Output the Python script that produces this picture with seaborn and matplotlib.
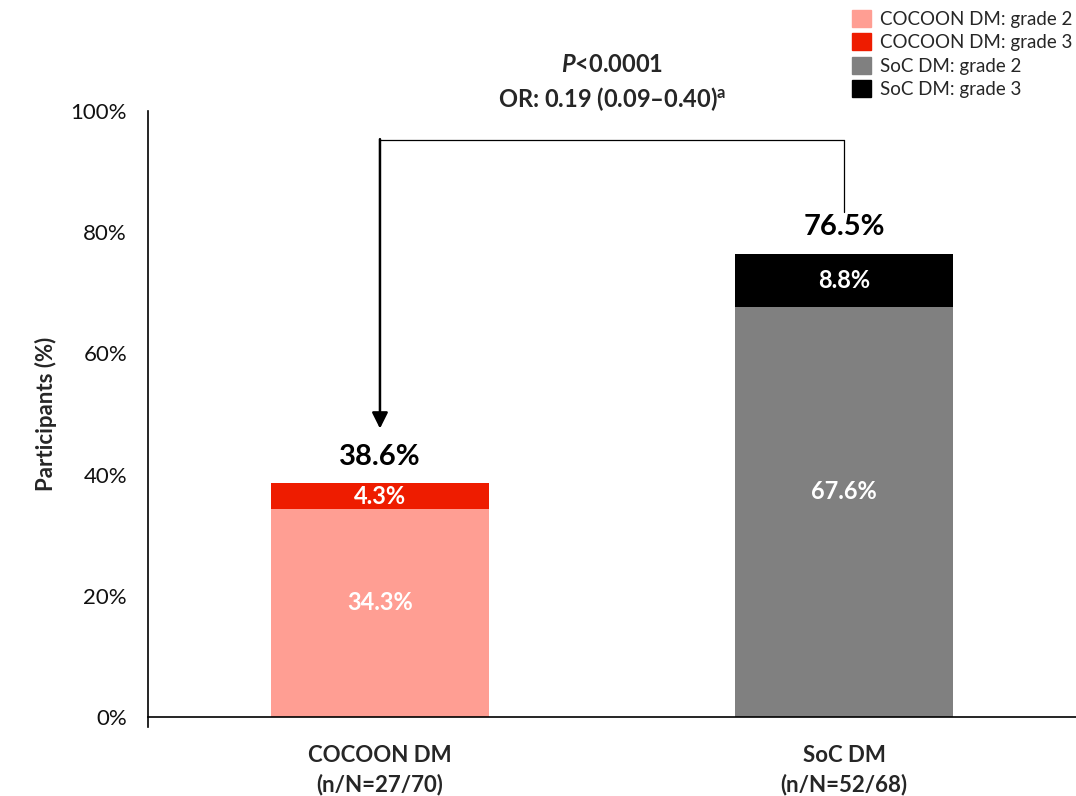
import matplotlib
matplotlib.use("Agg")
import matplotlib.pyplot as plt
from matplotlib.patches import Patch
import seaborn as sns
import pandas as pd

# Dermatitis grade by arm (% of participants)
arms = ["COCOON DM", "SoC DM"]
arm_labels = ["COCOON DM\n(n/N=27/70)", "SoC DM\n(n/N=52/68)"]
grade2 = [34.3, 67.6]
grade3 = [4.3, 8.8]
totals = [38.6, 76.5]
yticks = [0, 20, 40, 60, 80, 100]

grade2_colors = ["#FF9E93", "#808080"]
grade3_colors = ["#EE1C00", "#000000"]

sns.set_theme(style="white")
plt.rcParams["font.family"] = ["Lato", "DejaVu Sans"]
plt.rcParams["mathtext.fontset"] = "custom"
plt.rcParams["mathtext.rm"] = "Lato"
plt.rcParams["mathtext.bf"] = "Lato:bold"
plt.rcParams["mathtext.it"] = "Lato:italic"
plt.rcParams["mathtext.bfit"] = "Lato:italic:bold"

fig = plt.figure(figsize=(10.76, 7.96), dpi=100)
ax = fig.add_axes([0.1375, 0.0992, 0.8625, 0.7614])

df = pd.DataFrame({
    "arm": arms,
    "stack_top": [g2 + g3 for g2, g3 in zip(grade2, grade3)],
    "grade2": grade2,
})

# grade 3 segment shows as the part of the full stack above grade 2
sns.barplot(data=df, x="arm", y="stack_top", hue="arm",
            palette=dict(zip(arms, grade3_colors)), width=0.47,
            legend=False, ax=ax, saturation=1, linewidth=0)
sns.barplot(data=df, x="arm", y="grade2", hue="arm",
            palette=dict(zip(arms, grade2_colors)), width=0.47,
            legend=False, ax=ax, saturation=1, linewidth=0)

ax.set_xlim(-0.5, 1.5)
ax.set_ylim(0, 100)
ax.set_yticks(yticks)
ax.set_yticklabels([f"{t}%" for t in yticks], fontsize=16, color="#111111")
ax.set_xticks([0, 1])
ax.set_xticklabels(arm_labels, fontsize=16, fontweight="bold", linespacing=1.45)
ax.set_xticks([-0.5, 0.5, 1.5], minor=True)
ax.tick_params(axis="x", which="major", length=0, pad=20)
ax.tick_params(axis="x", which="minor", length=6, width=1, color="black", direction="out")
ax.tick_params(axis="y", which="major", length=7, width=1, color="black", direction="out", pad=8)
ax.set_xlabel("")
ax.set_ylabel("Participants (%)", fontsize=16, fontweight="bold", labelpad=10)

for side in ["top", "right"]:
    ax.spines[side].set_visible(False)
for side in ["left", "bottom"]:
    ax.spines[side].set_color("black")
    ax.spines[side].set_linewidth(1.2)
ax.spines["left"].set_bounds(-1.6, 100)

# segment and total labels
for i in range(len(arms)):
    ax.text(i, grade2[i] * 0.55, f"{grade2[i]:.1f}%", ha="center", va="center",
            color="white", fontsize=17, fontweight="bold")
    ax.text(i, grade2[i] + grade3[i] / 2, f"{grade3[i]:.1f}%", ha="center",
            va="center", color="white", fontsize=17, fontweight="bold")
    ax.text(i, totals[i] + 4.3, f"{totals[i]:.1f}%", ha="center", va="center",
            color="black", fontsize=21, fontweight="bold")

# comparison bracket with arrow into the COCOON bar
ax.plot([0, 1], [95.2, 95.2], color="black", lw=0.9, clip_on=False)
ax.plot([1, 1], [95.2, 83.3], color="black", lw=0.9, clip_on=False)
ax.annotate("", xy=(0, 47.6), xytext=(0, 95.35),
            arrowprops=dict(arrowstyle="-|>", color="black", lw=1.8,
                            mutation_scale=24, shrinkA=0, shrinkB=0),
            annotation_clip=False)

ax.text(0.5, 107.6, r"$\mathbfit{P}$<0.0001", ha="center", va="center",
        fontsize=17, fontweight="bold", clip_on=False)
ax.text(0.5, 102.0, r"OR: 0.19 (0.09–0.40)$^{\mathbf{a}}$", ha="center",
        va="center", fontsize=17, fontweight="bold", clip_on=False)

handles = [
    Patch(color=grade2_colors[0], label="COCOON DM: grade 2"),
    Patch(color=grade3_colors[0], label="COCOON DM: grade 3"),
    Patch(color=grade2_colors[1], label="SoC DM: grade 2"),
    Patch(color=grade3_colors[1], label="SoC DM: grade 3"),
]
fig.legend(handles=handles, loc="upper left", bbox_to_anchor=(0.785, 0.997),
           frameon=False, fontsize=13.5, handlelength=1.0, handleheight=1.0,
           handletextpad=0.5, labelspacing=0.3, borderaxespad=0)

fig.savefig("out.png", dpi=100)
